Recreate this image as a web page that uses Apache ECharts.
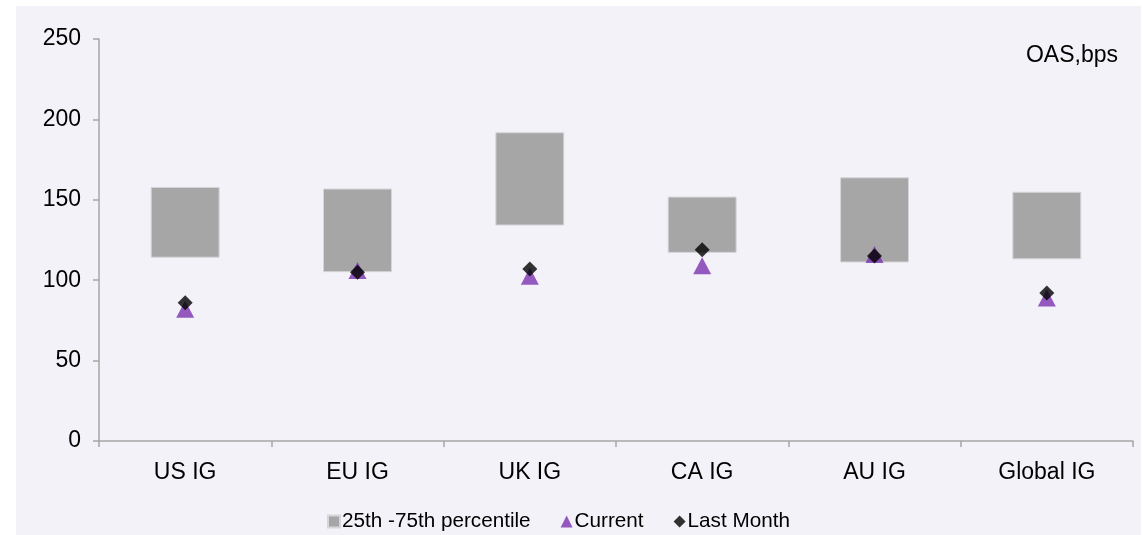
<!DOCTYPE html>
<html>
<head>
<meta charset="utf-8">
<style>
  html, body { margin: 0; padding: 0; background: #ffffff; }
  #chart { width: 1142px; height: 535px; }
</style>
<script src="https://cdn.jsdelivr.net/npm/echarts@6/dist/echarts.min.js"></script>
</head>
<body>
<div id="chart"></div>
<script>
// Investment-grade OAS ranges by market (bps)
const categories = ['US IG', 'EU IG', 'UK IG', 'CA IG', 'AU IG', 'Global IG'];
const pct25 = [114, 105, 134, 117, 111, 113];
const pct75 = [158, 157, 192, 152, 164, 155];
const current = [82, 106, 102.5, 109, 116, 89];
const lastMonth = [86, 105, 107, 119, 115, 92];
const yTicks = [0, 50, 100, 150, 200, 250];

const FONT = '"Liberation Sans", Arial, sans-serif';
const GRAY = '#a6a6a6';
const PURPLE = '#7a32b0';

const chart = echarts.init(document.getElementById('chart'), null, { renderer: 'canvas' });

// floating bars: transparent base up to the 25th percentile, gray span up to the 75th
const rangeHeight = pct75.map((v, i) => v - pct25[i]);

chart.setOption({
  animation: false,
  backgroundColor: 'transparent',
  graphic: [{
    type: 'rect',
    z: -10,
    silent: true,
    shape: { x: 16, y: 6, width: 1125, height: 529 },
    style: { fill: '#f3f2f8' }
  }, {
    type: 'text',
    right: 24,
    top: 44,
    style: { text: 'OAS,bps', font: '23px ' + FONT, fill: '#000' }
  }],
  grid: { left: 99, right: 9, top: 39, bottom: 94 },
  legend: {
    top: 506,
    left: 322,
    itemGap: 30,
    itemWidth: 12,
    itemHeight: 12,
    textStyle: { fontFamily: FONT, fontSize: 20.7, color: '#000', padding: [0, 0, 0, -3] },
    data: [
      { name: '25th -75th percentile', icon: 'rect' },
      { name: 'Current', icon: 'triangle', itemStyle: { color: PURPLE } },
      { name: 'Last Month', icon: 'diamond', itemStyle: { color: '#000' } }
    ]
  },
  xAxis: {
    type: 'category',
    data: categories,
    boundaryGap: true,
    axisLine: { lineStyle: { color: GRAY, width: 1.5 } },
    axisTick: { show: true, length: 6, lineStyle: { color: GRAY, width: 1.5 } },
    axisLabel: { fontFamily: FONT, fontSize: 23, color: '#000', margin: 20 }
  },
  yAxis: {
    type: 'value',
    min: yTicks[0],
    max: yTicks[yTicks.length - 1],
    interval: 50,
    splitLine: { show: false },
    axisLine: { show: true, lineStyle: { color: GRAY, width: 1.5 } },
    axisTick: { show: true, length: 6, lineStyle: { color: GRAY, width: 1.5 } },
    axisLabel: { fontFamily: FONT, fontSize: 23, color: '#000', margin: 18 }
  },
  series: [
    {
      name: 'base',
      type: 'bar',
      stack: 'range',
      barWidth: '40%',
      data: pct25,
      itemStyle: { color: 'transparent' },
      silent: true
    },
    {
      name: '25th -75th percentile',
      type: 'bar',
      stack: 'range',
      barWidth: '40%',
      data: rangeHeight,
      itemStyle: { color: GRAY, borderColor: '#d6d5da', borderWidth: 1 }
    },
    {
      name: 'Current',
      type: 'scatter',
      data: current,
      symbol: 'triangle',
      symbolSize: [18, 17],
      itemStyle: { color: PURPLE },
      z: 3
    },
    {
      name: 'Last Month',
      type: 'scatter',
      data: lastMonth,
      symbol: 'diamond',
      symbolSize: 15,
      itemStyle: { color: '#000' },
      z: 4
    }
  ]
});
</script>
</body>
</html>
